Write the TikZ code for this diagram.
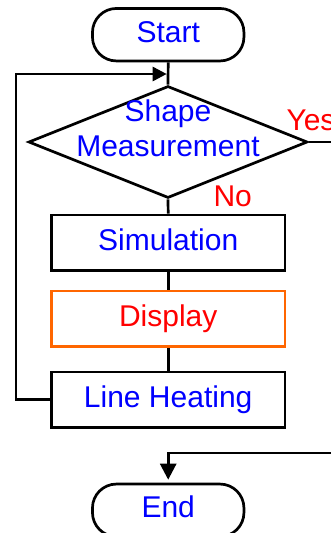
\documentclass[tikz,border=0pt]{standalone}
\usepackage{fontspec}
\setmainfont{Liberation Sans}
\usetikzlibrary{shapes.geometric,arrows.meta}
\definecolor{dispborder}{RGB}{255,102,0}
\definecolor{txtblue}{RGB}{0,0,255}
\definecolor{txtred}{RGB}{255,0,0}
\tikzset{
  flowline/.style={line width=2.7pt, black},
  termbox/.style={draw, line width=2.7pt, rectangle, rounded corners=24pt,
    minimum width=151.5pt, minimum height=52.5pt, inner sep=0pt,
    text height=21.5pt, text depth=6.3pt, text=txtblue},
  procbox/.style={draw, line width=2.7pt, rectangle,
    minimum width=233.7pt, minimum height=55.5pt, inner sep=0pt,
    text height=21.5pt, text depth=6.3pt, text=txtblue},
  bigfont/.style={font=\fontsize{30pt}{35pt}\selectfont}
}
\begin{document}
\begin{tikzpicture}[x=1pt, y=-1pt, bigfont]
\useasboundingbox (0,0) rectangle (330,533);

% Start
\node[termbox] (start) at (168.2,34.7) {Start};

% Shape measurement (decision)
\node[draw, line width=2.7pt, diamond, minimum width=279pt, minimum height=112pt,
  inner sep=0pt] (meas) at (168,142) {};
\node[text=txtblue, align=center] (meastext) at (168,128.5) {Shape\\Measurement};
\node[text=txtred, anchor=base west] (yes) at (283,130) {Yes};
\node[text=txtred, anchor=base west] (no) at (210,206) {No};

% Processing steps
\node[procbox] (sim) at (168.2,242.7) {Simulation};
\node[procbox, draw=dispborder, text=txtred] (disp) at (168.2,318.8) {Display};
\node[procbox] (heat) at (168.2,399.8) {Line Heating};

% End
\node[termbox] (end) at (168.2,510.3) {End};

% Connectors
\coordinate (loopin) at (168.2,74);
\coordinate (yesout) at (335,142);
\coordinate (endin) at (335,453);
\draw[flowline] (start.south) -- (meas.north);
\draw[flowline] (meas.south) -- (sim.north);
\draw[flowline] (sim.south) -- (disp.north);
\draw[flowline] (disp.south) -- (heat.north);
\draw[flowline] (meas.east) -- (yesout);
\draw[flowline, -{Triangle[length=14pt,width=14pt]}, shorten >=1.5pt]
  (heat.west) -- ++(-34,0) |- (loopin);
\draw[flowline, -{Triangle[length=16pt,width=16pt]}, shorten >=3pt]
  (endin) -| (end.north);

\end{tikzpicture}
\end{document}
